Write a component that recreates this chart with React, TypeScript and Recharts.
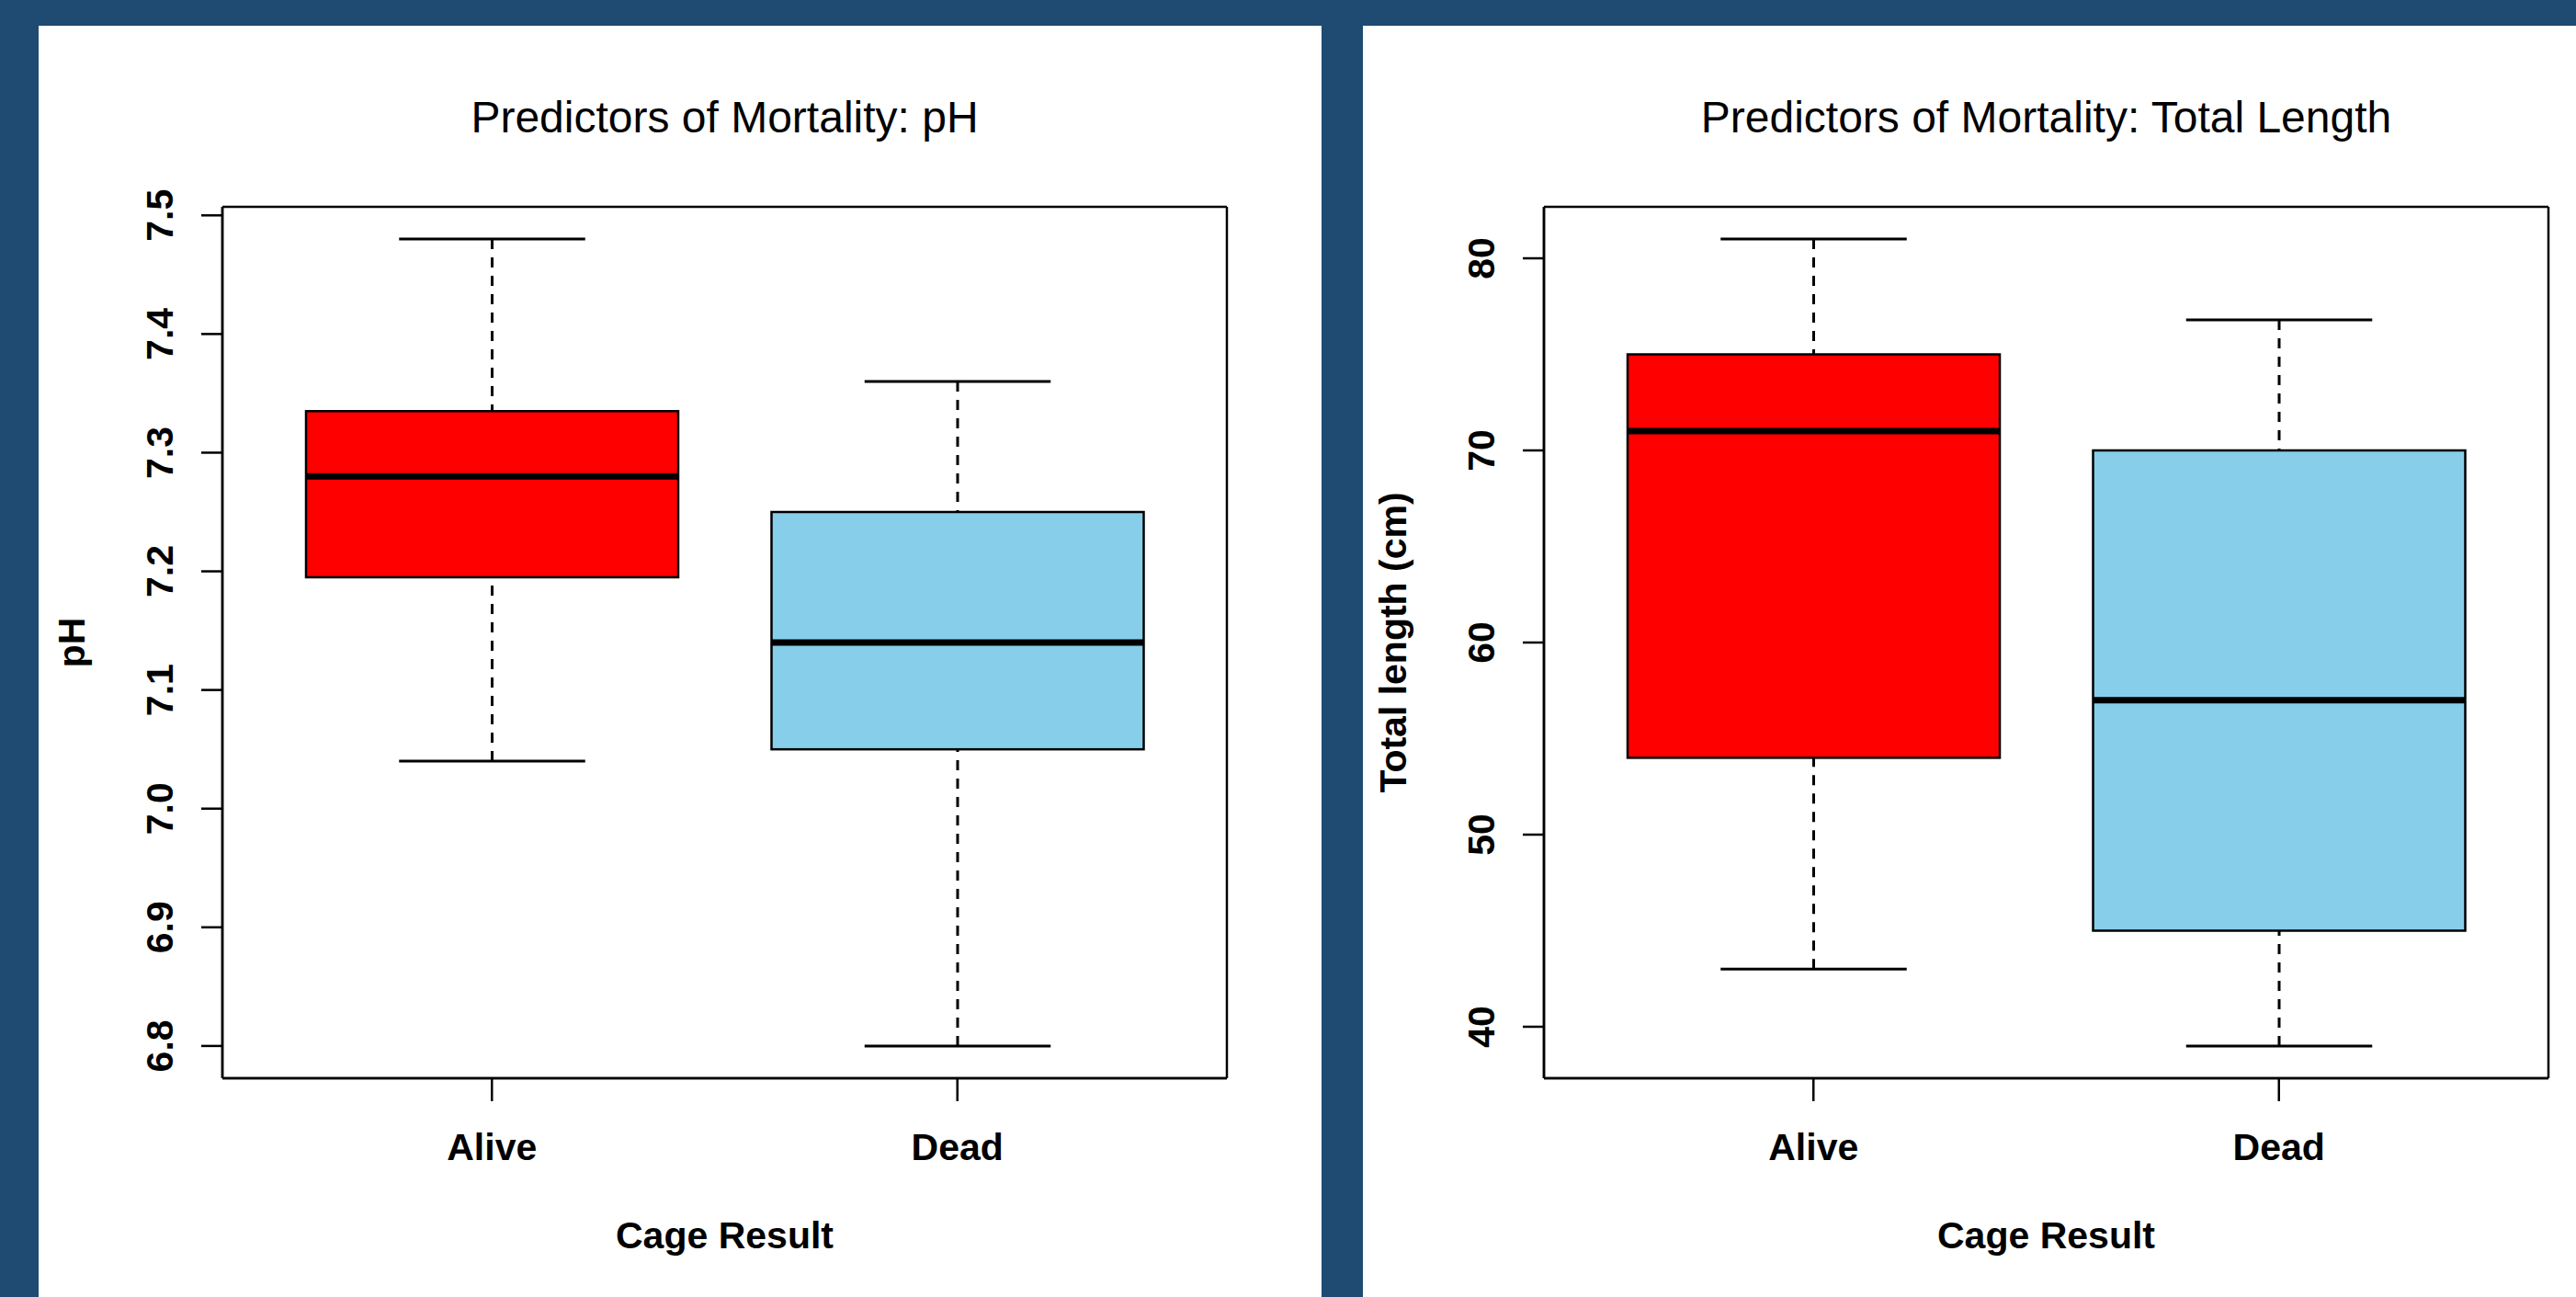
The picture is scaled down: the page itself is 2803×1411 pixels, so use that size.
import React from 'react';
import { ComposedChart, Bar, XAxis, YAxis, CartesianGrid } from 'recharts';

const FONT = '"Liberation Sans", Arial, Helvetica, sans-serif';
const BG = '#1F4A72';

const groups = ['Alive', 'Dead'];
const boxColors = ['#FF0000', '#87CEEB'];

// pH by cage result (five-number summaries)
const phMin = [7.04, 6.8];
const phQ1 = [7.195, 7.05];
const phMedian = [7.28, 7.14];
const phQ3 = [7.335, 7.25];
const phMax = [7.48, 7.36];
const phTicks = [6.8, 6.9, 7.0, 7.1, 7.2, 7.3, 7.4, 7.5];

// total length (cm) by cage result
const lenMin = [43, 39];
const lenQ1 = [54, 45];
const lenMedian = [71, 57];
const lenQ3 = [75, 70];
const lenMax = [81, 76.8];
const lenTicks = [40, 50, 60, 70, 80];

function buildRows(mins: number[], q1s: number[], meds: number[], q3s: number[], maxs: number[]) {
    return groups.map((g, i) => ({
        group: g,
        range: [mins[i], maxs[i]],
        min: mins[i],
        q1: q1s[i],
        median: meds[i],
        q3: q3s[i],
        max: maxs[i],
        color: boxColors[i],
    }));
}

// R-style axis range: data range padded by 4% on each side
function rDomain(mins: number[], maxs: number[]): [number, number] {
    const lo = Math.min(...mins);
    const hi = Math.max(...maxs);
    const pad = (hi - lo) * 0.04;
    return [lo - pad, hi + pad];
}

const BoxShape = (props: any) => {
    const { x, y, width, height, payload } = props;
    const { min, q1, median, q3, max, color } = payload;
    // bar spans min..max, so place the inner stats on the same linear scale
    const py = (v: number) => y + ((max - v) / (max - min)) * height;
    const cx = x + width / 2;
    const cap = width / 4;
    return (
        <g>
            <line x1={cx} x2={cx} y1={py(max)} y2={py(q3)} stroke="#000" strokeWidth={3} strokeDasharray="11 9" />
            <line x1={cx} x2={cx} y1={py(min)} y2={py(q1)} stroke="#000" strokeWidth={3} strokeDasharray="11 9" />
            <line x1={cx - cap} x2={cx + cap} y1={py(max)} y2={py(max)} stroke="#000" strokeWidth={3} />
            <line x1={cx - cap} x2={cx + cap} y1={py(min)} y2={py(min)} stroke="#000" strokeWidth={3} />
            <rect x={x} y={py(q3)} width={width} height={py(q1) - py(q3)} fill={color} stroke="#000" strokeWidth={2.5} />
            <line x1={x} x2={x + width} y1={py(median)} y2={py(median)} stroke="#000" strokeWidth={7} />
        </g>
    );
};

interface BoxPanelProps {
    title: string;
    yLabel: string;
    rows: any[];
    domain: [number, number];
    ticks: number[];
    fmt: (v: number) => string;
    left: number;
    width: number;
    yAxisWidth: number;
    rightMargin: number;
}

function BoxPanel({ title, yLabel, rows, domain, ticks, fmt, left, width, yAxisWidth, rightMargin }: BoxPanelProps) {
    const height = 1383;
    const plotWidth = width - yAxisWidth - rightMargin;
    return (
        <div style={{ position: 'absolute', left, top: 28, width, height, background: '#fff' }}>
            <div
                style={{
                    position: 'absolute',
                    left: yAxisWidth,
                    top: 76,
                    width: plotWidth,
                    textAlign: 'center',
                    fontSize: 48,
                    lineHeight: '48px',
                    fontFamily: FONT,
                    color: '#000',
                    whiteSpace: 'nowrap',
                }}
            >
                {title}
            </div>
            <ComposedChart
                width={width}
                height={height}
                data={rows}
                margin={{ top: 197, right: rightMargin, bottom: 0, left: 0 }}
            >
                <CartesianGrid
                    stroke="#000"
                    strokeWidth={2.5}
                    fill="none"
                    horizontalCoordinatesGenerator={({ offset }: any) => [offset.top, offset.top + offset.height]}
                    verticalCoordinatesGenerator={({ offset }: any) => [offset.left, offset.left + offset.width]}
                />
                <XAxis
                    dataKey="group"
                    height={238}
                    padding={{ left: 40, right: 40 }}
                    interval={0}
                    tickSize={25}
                    tickMargin={0}
                    axisLine={{ stroke: '#000', strokeWidth: 2.5 }}
                    tickLine={{ stroke: '#000', strokeWidth: 2.5 }}
                    tick={(p: any) => (
                        <text x={p.x} y={p.y + 64} textAnchor="middle" fontSize={41} fontWeight="bold" fontFamily={FONT} fill="#000">
                            {p.payload.value}
                        </text>
                    )}
                    label={{
                        content: (p: any) => {
                            const vb = p.viewBox;
                            return (
                                <text x={vb.x + vb.width / 2} y={vb.y + 185} textAnchor="middle" fontSize={41} fontWeight="bold" fontFamily={FONT} fill="#000">
                                    Cage Result
                                </text>
                            );
                        },
                    }}
                />
                <YAxis
                    type="number"
                    width={yAxisWidth}
                    domain={domain}
                    ticks={ticks}
                    allowDataOverflow
                    interval={0}
                    tickSize={23}
                    tickMargin={0}
                    axisLine={{ stroke: '#000', strokeWidth: 2.5 }}
                    tickLine={{ stroke: '#000', strokeWidth: 2.5 }}
                    tick={(p: any) => (
                        <text
                            transform={`translate(${p.x - 31},${p.y}) rotate(-90)`}
                            textAnchor="middle"
                            fontSize={41}
                            fontWeight="bold"
                            fontFamily={FONT}
                            fill="#000"
                        >
                            {fmt(p.payload.value)}
                        </text>
                    )}
                    label={{
                        content: (p: any) => {
                            const vb = p.viewBox;
                            return (
                                <text
                                    transform={`translate(${vb.x + vb.width - 150},${vb.y + vb.height / 2}) rotate(-90)`}
                                    textAnchor="middle"
                                    fontSize={41}
                                    fontWeight="bold"
                                    fontFamily={FONT}
                                    fill="#000"
                                >
                                    {yLabel}
                                </text>
                            );
                        },
                    }}
                />
                <Bar dataKey="range" barSize={405} shape={<BoxShape />} isAnimationActive={false} />
            </ComposedChart>
        </div>
    );
}

export default function App() {
    const phRows = buildRows(phMin, phQ1, phMedian, phQ3, phMax);
    const lenRows = buildRows(lenMin, lenQ1, lenMedian, lenQ3, lenMax);
    return (
        <div
            style={{
                position: 'absolute',
                left: 0,
                top: 0,
                width: 2803,
                height: 1411,
                background: BG,
                overflow: 'hidden',
                fontFamily: FONT,
            }}
        >
            <BoxPanel
                title="Predictors of Mortality: pH"
                yLabel="pH"
                rows={phRows}
                domain={rDomain(phMin, phMax)}
                ticks={phTicks}
                fmt={(v) => v.toFixed(1)}
                left={42}
                width={1396}
                yAxisWidth={200}
                rightMargin={103}
            />
            <BoxPanel
                title="Predictors of Mortality: Total Length"
                yLabel="Total length (cm)"
                rows={lenRows}
                domain={rDomain(lenMin, lenMax)}
                ticks={lenTicks}
                fmt={(v) => String(v)}
                left={1483}
                width={1320}
                yAxisWidth={197}
                rightMargin={30}
            />
        </div>
    );
}
